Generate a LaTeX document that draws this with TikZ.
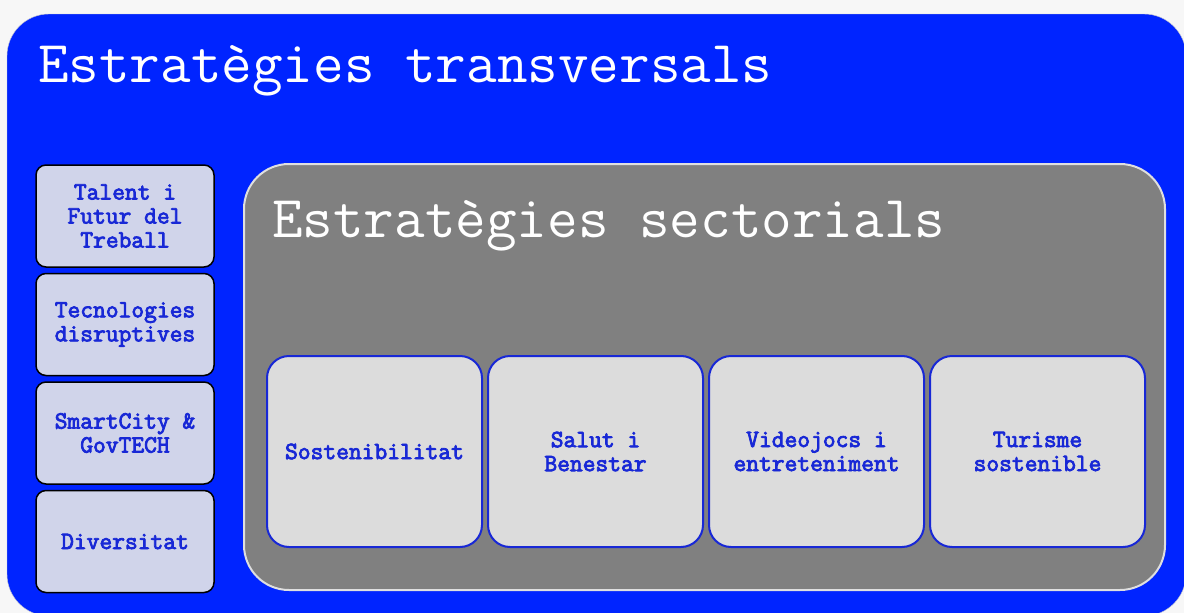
\documentclass[tikz,border=0pt]{standalone}
\usepackage{fontspec}
\newfontfamily\boxfont[FakeBold=3.2]{Latin Modern Mono}
\usetikzlibrary{positioning}
\definecolor{bigblue}{RGB}{0,36,255}
\definecolor{midgray}{RGB}{128,128,128}
\definecolor{lavbox}{RGB}{208,212,234}
\definecolor{lightbox}{RGB}{220,220,220}
\definecolor{txtblue}{RGB}{24,40,214}
\tikzset{
  title/.style={font=\ttfamily\fontsize{59.4}{60}\selectfont, text=white, anchor=base west, inner sep=0pt},
  transbox/.style={draw=black, line width=1.5pt, fill=lavbox, rounded corners=10pt,
    minimum width=178pt, minimum height=102pt, inner sep=0pt, align=center,
    font=\boxfont\fontsize{24.8}{24}\selectfont, text=txtblue},
  sectbox/.style={draw=txtblue, line width=2pt, fill=lightbox, rounded corners=22pt,
    minimum width=215pt, minimum height=191pt, inner sep=0pt, align=center,
    font=\boxfont\fontsize{24.8}{24}\selectfont, text=txtblue}
}
\begin{document}
\begin{tikzpicture}[x=1pt,y=-1pt]
\useasboundingbox (0,0) rectangle (1184,613);
\fill[white!97!black] (0,0) rectangle (1184,613);
% outer frame
\draw[draw=gray!40, fill=bigblue, rounded corners=42pt] (7,14) rectangle (1186,616);
\node[title] (trans) at (38,82) {Estratègies transversals};
% inner frame
\draw[draw=gray!25, line width=2pt, fill=midgray, rounded corners=45pt] (244,164) rectangle (1165,590);
\node[title] (sect) at (272,237) {Estratègies sectorials};
% transversal column
\node[transbox] (talent) at (125,216) {Talent i\\Futur del\\Treball};
\node[transbox, below=5pt of talent] (tecno) {Tecnologies\\disruptives};
\node[transbox, below=5pt of tecno] (smart) {SmartCity \&\\GovTECH};
\node[transbox, below=5pt of smart] (divers) {Diversitat};
% sectorial row
\node[sectbox] (soste) at (374.5,451.5) {Sostenibilitat};
\node[sectbox, right=4pt of soste] (salut) {Salut i\\Benestar};
\node[sectbox, right=4pt of salut] (video) {Videojocs i\\entreteniment};
\node[sectbox, right=4pt of video] (turisme) {Turisme\\sostenible};
\end{tikzpicture}
\end{document}
